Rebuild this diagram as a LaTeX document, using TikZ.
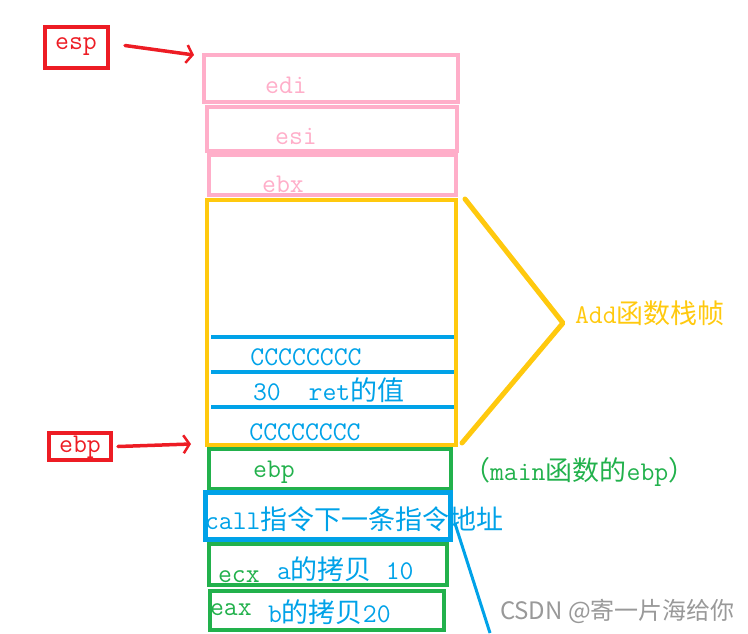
\documentclass[tikz,border=0pt]{standalone}
\usepackage{fontspec}
\newfontfamily\cjkfont{Noto Sans CJK SC}
\newcommand\zh[1]{{\cjkfont\fontsize{27}{27}\selectfont #1}}
\usetikzlibrary{fit,arrows.meta}
\definecolor{pinkc}{HTML}{FFAEC9}
\definecolor{yellowc}{HTML}{FFC90E}
\definecolor{redc}{HTML}{ED1C24}
\definecolor{greenc}{HTML}{22B14C}
\definecolor{bluec}{HTML}{00A2E8}
\definecolor{wmgray}{HTML}{999999}
\begin{document}
\begin{tikzpicture}[x=1pt,y=-1pt,
  every node/.style={inner sep=0pt, outer sep=0pt, font=\ttfamily\fontsize{27}{27}\selectfont},
  frame/.style={fit={#1}, draw, line width=4pt},
  lbl/.style={anchor=west},
  redarrow/.style={draw=redc, line width=3.5pt, line cap=round, -{Straight Barb[length=6pt,width=18pt,line width=2.5pt]}}]
\useasboundingbox (0,0) rectangle (748,633);
% texts under boxes
\node[text=pinkc] (tedi) at (286,85) {edi};
\node[text=pinkc] (tesi) at (296,136) {esi};
\node[text=pinkc] (tebx) at (283,184) {ebx};
% red boxes
\node[frame={(45,27) (108,68)}, draw=redc] (espbox) {};
\node[text=redc] (tesp) at (76,47) {esp};
\node[frame={(49,433) (111,460)}, draw=redc] (ebpred) {};
\node[text=redc] (tebpred) at (80,447) {ebp};
% pink boxes
\node[frame={(204,55) (458,102)}, draw=pinkc, line width=4.5pt] (edibox) {};
\node[frame={(207,107) (457,151)}, draw=pinkc, line width=4.5pt] (esibox) {};
\node[frame={(209,155) (456,195)}, draw=pinkc, line width=4.5pt] (ebxbox) {};
% yellow frame
\node[frame={(207,200) (456,445)}, draw=yellowc] (addbox) {};
\draw[bluec, line width=4pt] (211,337) -- (454,337);
\draw[bluec, line width=4pt] (211,372) -- (454,372);
\draw[bluec, line width=4pt] (211,407) -- (454,407);
\node[text=bluec] (tc1) at (306,357) {CCCCCCCC};
\node[text=bluec, lbl] (tret) at (253,390) {30\ \ ret\zh{的值}};
\node[text=bluec] (tc2) at (305,432) {CCCCCCCC};
% bracket
\coordinate (bt) at (465,199);
\coordinate (bm) at (563,323);
\coordinate (bb) at (462,443);
\draw[yellowc, line width=5pt, line cap=round, line join=round] (bt) -- (bm) -- (bb);
\node[text=yellowc, lbl] (tadd) at (575,313) {Add\zh{函数栈帧}};
% lower boxes
\node[frame={(209,449) (451,489)}, draw=greenc, line width=3.5pt] (ebpbox) {};
\node[text=greenc] (tebp) at (274,472) {ebp};
\node[text=greenc, lbl] (tmain) at (463,472) {\zh{（}main\zh{函数的}ebp\zh{）}};
\node[frame={(209,544) (447,585)}, draw=greenc] (ecxbox) {};
\node[frame={(210,591) (444,630)}, draw=greenc] (eaxbox) {};
\node[frame={(205,492) (450,539)}, draw=bluec, line width=5pt] (callbox) {};
\node[text=bluec, lbl] (tcall) at (205,519) {call\zh{指令下一条指令地址}};
\node[text=greenc, lbl] (tecx) at (218,577) {ecx};
\node[text=bluec, lbl] (ta) at (277,569) {a\zh{的拷贝} 10};
\node[text=greenc, lbl] (teax) at (210,610) {eax};
\node[text=bluec, lbl] (tb) at (268,612) {b\zh{的拷贝}20};
% connectors
\draw[redarrow] ([xshift=17pt,yshift=2pt]espbox.east) -- ([xshift=-10pt]edibox.north west);
\draw[redarrow] ([xshift=7pt]ebpred.east) -- ([xshift=-16pt,yshift=1pt]addbox.south west);
\coordinate (bl) at (490,633);
\draw[bluec, line width=3pt] ([xshift=5pt,yshift=-8pt]callbox.east) -- (bl);
% watermark
\node[lbl, text=wmgray, font=\cjkfont\fontsize{24}{24}\selectfont] (wm) at (500,611) {CSDN @寄一片海给你};
\end{tikzpicture}
\end{document}
